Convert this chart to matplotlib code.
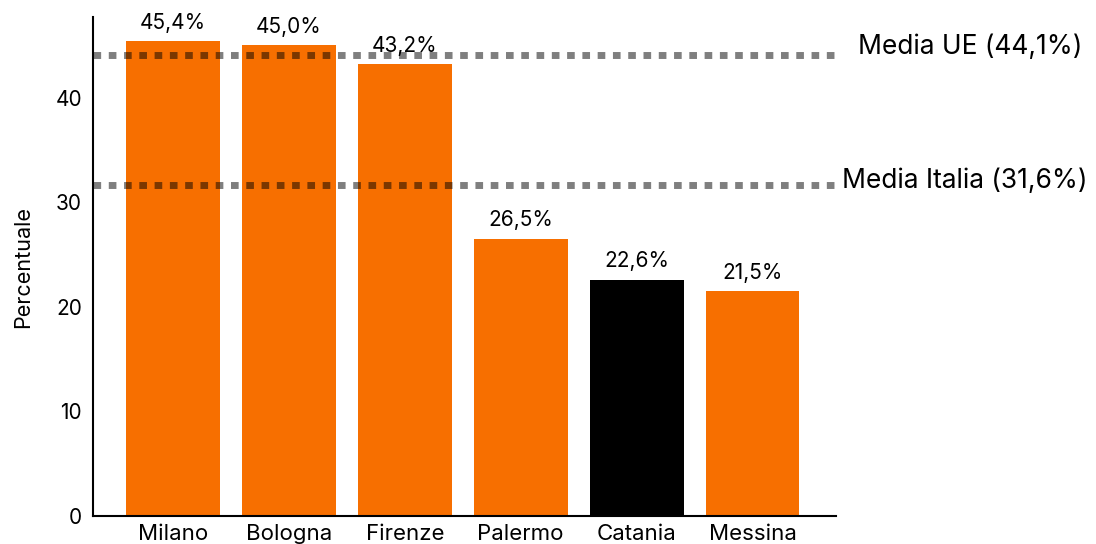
import matplotlib
matplotlib.use("Agg")
import matplotlib.pyplot as plt

cities = ["Milano", "Bologna", "Firenze", "Palermo", "Catania", "Messina"]
values = [45.4, 45.0, 43.2, 26.5, 22.6, 21.5]
labels = ["45,4%", "45,0%", "43,2%", "26,5%", "22,6%", "21,5%"]
bar_colors = ["#F76F00", "#F76F00", "#F76F00", "#F76F00", "#000000", "#F76F00"]
ref_values = [44.1, 31.6]
ref_labels = ["Media UE (44,1%)", "Media Italia (31,6%)"]
yticks = [0, 10, 20, 30, 40]

plt.rcParams['font.family'] = ['Inter', 'DejaVu Sans']

fig = plt.figure(figsize=(10.96, 5.44), dpi=100)
ax = fig.add_axes([93/1096, 1 - 516/544, (836 - 93)/1096, (516 - 17)/544])

x = list(range(len(cities)))
bars = ax.bar(x, values, width=0.81, color=bar_colors, zorder=2)
for xi, v, lab in zip(x, values, labels):
    ax.annotate(lab, (xi, v), xytext=(0, 6), textcoords="offset points",
                ha="center", va="bottom", fontsize=15)

for rv in ref_values:
    ax.axhline(rv, color="black", alpha=0.5, lw=5, linestyle=(0, (1.1, 1.1)),
               dash_capstyle="butt", zorder=3)

ax.text(858/1096, 1 - 47/544, ref_labels[0], transform=fig.transFigure,
        ha="left", va="center", fontsize=19)
ax.text(842/1096, 1 - 181/544, ref_labels[1], transform=fig.transFigure,
        ha="left", va="center", fontsize=19)

ax.set_xlim(-0.69, 5.72)
ax.set_ylim(0, 47.7)
ax.set_xticks(x)
ax.set_xticklabels(cities, fontsize=16)
ax.set_yticks(yticks)
ax.set_yticklabels([str(t) for t in yticks], fontsize=15)
ax.tick_params(length=0, axis="y", pad=8)
ax.tick_params(length=0, axis="x", pad=6)
ax.set_ylabel("Percentuale", fontsize=15.5, labelpad=16)
for s in ["top", "right"]:
    ax.spines[s].set_visible(False)
for s in ["left", "bottom"]:
    ax.spines[s].set_linewidth(1.5)

fig.savefig("out.png", dpi=100)
